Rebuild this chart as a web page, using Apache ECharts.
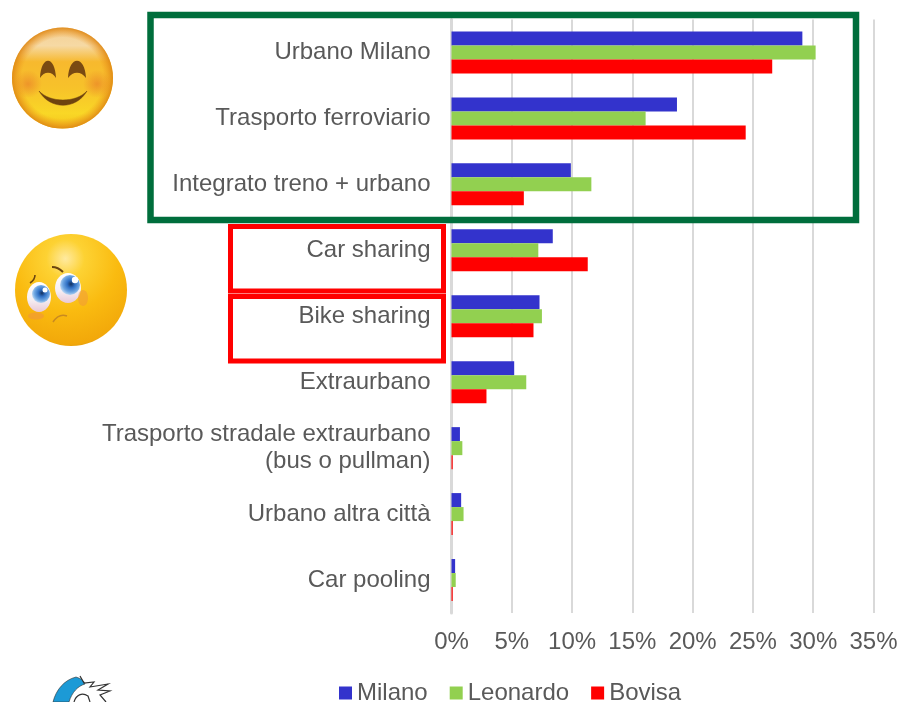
<!DOCTYPE html>
<html><head><meta charset="utf-8">
<style>html,body{margin:0;padding:0;background:#fff}#c{width:899px;height:702px}</style>
<script src="https://cdn.jsdelivr.net/npm/echarts@6/dist/echarts.min.js"></script>
</head><body><div id="c"></div>
<script>
const categories = ['Urbano Milano','Trasporto ferroviario','Integrato treno + urbano','Car sharing','Bike sharing','Extraurbano','Trasporto stradale extraurbano\n(bus o pullman)','Urbano altra città','Car pooling'];
const milano   = [29.1,18.7,9.9,8.4,7.3,5.2,0.7,0.8,0.3];
const leonardo = [30.2,16.1,11.6,7.2,7.5,6.2,0.9,1.0,0.35];
const bovisa   = [26.6,24.4,6.0,11.3,6.8,2.9,0.1,0.1,0.1];
const tickStep = 5, axisMax = 35;

const font = 'Liberation Sans, Arial, sans-serif';
const grey = '#595959';
const chart = echarts.init(document.getElementById('c'), null, {renderer:'canvas'});
const radial = (x,y,r,stops)=>new echarts.graphic.RadialGradient(x,y,r,stops.map(s=>({offset:s[0],color:s[1]})));
const linear = (stops)=>new echarts.graphic.LinearGradient(0,0,0,1,stops.map(s=>({offset:s[0],color:s[1]})));
const barSeries = (name,data,color)=>({name,type:'bar',data,barWidth:14,barGap:'0%',itemStyle:{color}});
const frame = (x,y,w,h,color,lw)=>({type:'rect',shape:{x,y,width:w,height:h},style:{fill:null,stroke:color,lineWidth:lw},z:10});
let pathCount = 0;
const svgPath = (pathData,style,z)=>{
  const name = 'deco'+(pathCount++);
  echarts.graphic.registerShape(name, echarts.graphic.extendPath(pathData,{}));
  return {type:name,style,z};
};
const dot = (cx,cy,r,fill,z)=>({type:'circle',shape:{cx,cy,r},style:{fill},z});
const oval = (cx,cy,rx,ry,fill,z)=>({type:'ellipse',shape:{cx,cy,rx,ry},style:{fill},z});
const eyeBlue = ()=>radial(.55,.45,.55,[[0,'#12305f'],[.35,'#2f6fc4'],[.75,'#6ea6e2'],[1,'#b4d3f2']]);
const cheek = ()=>radial(.5,.5,.5,[[0,'rgba(232,120,40,0.6)'],[1,'rgba(232,120,40,0)']]);
const white = ()=>linear([[0,'#ffffff'],[.6,'#f6eef2'],[1,'#e9c9d6']]);

chart.setOption({
  animation:false,
  textStyle:{fontFamily:font},
  grid:{left:451.5,right:25.5,top:19.5,bottom:89,containLabel:false,outerBoundsMode:'none'},
  legend:{
    data:[{name:'Milano'},{name:'Leonardo'},{name:'Bovisa'}],
    left:339,top:681,padding:0,itemWidth:13,itemHeight:13,itemGap:22,icon:'rect',
    textStyle:{fontFamily:font,fontSize:24,color:grey}
  },
  xAxis:{
    type:'value',min:0,max:axisMax,interval:tickStep,
    axisLabel:{formatter:'{value}%',fontSize:24,color:grey,margin:17,fontFamily:font},
    axisLine:{show:false},axisTick:{show:false},
    splitLine:{show:true,lineStyle:{color:'#d9d9d9',width:2}}
  },
  yAxis:{
    type:'category',inverse:true,data:categories,offset:1,
    axisLine:{show:true,lineStyle:{color:'#d9d9d9',width:3}},
    axisTick:{show:false},
    axisLabel:{fontSize:24,color:grey,margin:20,lineHeight:27,align:'right',fontFamily:font,padding:[4,0,0,0]}
  },
  series:[barSeries('Milano',milano,'#3333cc'),barSeries('Leonardo',leonardo,'#92d050'),barSeries('Bovisa',bovisa,'#ff0000')],
  graphic:[
    frame(150.5,15,705.5,205,'#006e3c',6.5),
    frame(230.5,226.5,213,64.5,'#ff0000',5),
    frame(230.5,296.5,213,64.5,'#ff0000',5),
    // happy face
    dot(62.5,78,50.5,linear([[0,'#f3cf94'],[.18,'#f6d9a4'],[.34,'#f7b92e'],[.6,'#f7c22a'],[.85,'#f9d726'],[1,'#f4c41c']]),5),
    dot(62.5,78,50.5,radial(.5,.5,.5,[[0,'rgba(240,150,30,0)'],[.8,'rgba(240,150,30,0)'],[1,'rgba(222,135,20,0.9)']]),6),
    oval(28,84,17,14,cheek(),6),
    oval(97,84,17,14,cheek(),6),
    svgPath('M40 78 C41 55 55 55 56 78 C52 71 44 71 40 78 Z',{fill:'#7a4a12'},7),
    svgPath('M68 78 C69 55 85 55 86 78 C81 71 73 71 68 78 Z',{fill:'#7a4a12'},7),
    svgPath('M39 91 C50 110 76 110 87 91 C76 103 50 103 39 91 Z',{fill:'#6e430f',stroke:'#6e430f',lineWidth:.5},7),
    // sad face
    dot(71,290,56,radial(.45,.22,.85,[[0,'#ffeaa0'],[.2,'#fdd233'],[.55,'#fabb10'],[.9,'#f2a80a'],[1,'#c98a12']]),5),
    oval(39,297,12,15,white(),6),
    oval(68,288,13,15,white(),6),
    dot(41,294,9,eyeBlue(),7),
    dot(70,285,10,eyeBlue(),7),
    dot(45,290,2.5,'#fff',8),
    dot(75,280,3.2,'#fff',8),
    svgPath('M30 283 C33 281 35 279 35 275',{fill:null,stroke:'#6b4510',lineWidth:1.6},7),
    svgPath('M52 267 C56 267 60 269 63 272',{fill:null,stroke:'#6b4510',lineWidth:2},7),
    svgPath('M53 322 C57 316 62 314 67 316',{fill:null,stroke:'#c98a20',lineWidth:1.5},7),
    oval(36,316,8,3.5,'rgba(240,150,60,0.6)',6),
    oval(83,298,5,8,'rgba(240,150,60,0.5)',6),
    // mascot fragment
    svgPath('M53 702 C56 690 64 680 76 677 C82 679 84 681 85 684 C78 686 72 692 69 702 Z',{fill:'#1c9ad6',stroke:'#333',lineWidth:.6},5),
    svgPath('M80 676 L84 683 L94 682 L90 687 L108 684 L98 690 L110 691 L100 695 L106 702 M74 702 C76 695 82 692 88 696 L90 702',{fill:null,stroke:'#333',lineWidth:1.2},5)
  ]
});
</script></body></html>
